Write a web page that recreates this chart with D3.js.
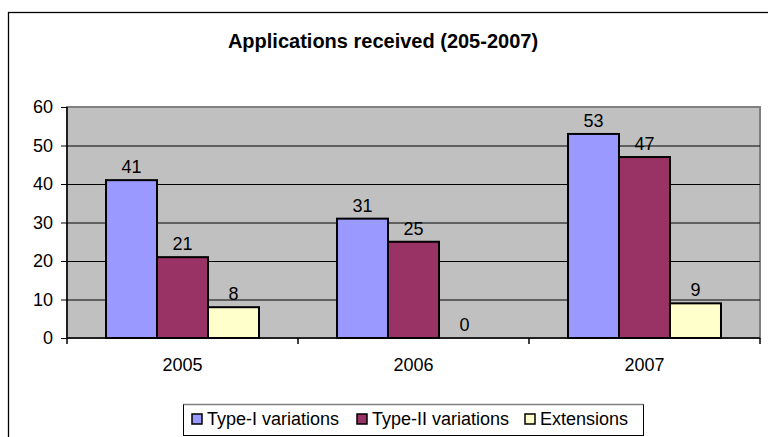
<!DOCTYPE html>
<html><head><meta charset="utf-8">
<script src="https://cdn.jsdelivr.net/npm/d3@7"></script>
<style>body{margin:0;background:#fff}svg{display:block;font-family:"Liberation Sans",Arial,sans-serif}</style>
</head><body><svg id="c" width="768" height="437"></svg>
<script>
const title = "Applications received (205-2007)";
const categories = ["2005", "2006", "2007"];
const seriesNames = ["Type-I variations", "Type-II variations", "Extensions"];
const typeI = [41, 31, 53];
const typeII = [21, 25, 47];
const extensions = [8, 0, 9];
const colors = ["#9999FF", "#993366", "#FFFFCC"];
const yTicks = [0, 10, 20, 30, 40, 50, 60];
const series = [typeI, typeII, extensions];

const FS = 18;
const svg = d3.select("#c");
// outer frame
svg.append("rect").attr("x", 8.5).attr("y", 12.5).attr("width", 800).attr("height", 500)
  .attr("fill", "#fff").attr("stroke", "#000").attr("stroke-width", 1.3);

svg.append("text").attr("x", 383).attr("y", 48).attr("text-anchor", "middle")
  .attr("font-weight", "bold").attr("font-size", 20).text(title);

const L = 67, R = 760, T = 107, B = 338;
const x = d3.scaleBand().domain(categories).range([L, R]).paddingInner(0).paddingOuter(0);
const y = d3.scaleLinear().domain([0, 60]).range([B, T]);
const inner = d3.scaleBand().domain(d3.range(series.length)).range([0, x.bandwidth()]).paddingOuter(0.765).paddingInner(0);

svg.append("rect").attr("x", L).attr("y", T).attr("width", R - L).attr("height", B - T)
  .attr("fill", "#C0C0C0").attr("stroke", "#808080").attr("stroke-width", 2);

svg.append("g").selectAll("line").data(yTicks.filter(d => d > 0 && d < 60)).join("line")
  .attr("x1", L).attr("x2", R).attr("y1", d => y(d) + 0.5).attr("y2", d => y(d) + 0.5)
  .attr("stroke", "#000").attr("stroke-width", 1);

// bars
const g = svg.append("g");
series.forEach((vals, si) => {
  categories.forEach((c, ci) => {
    const v = vals[ci];
    const bx = x(c) + inner(si);
    if (v > 0) {
      g.append("rect").attr("x", bx).attr("y", y(v)).attr("width", inner.bandwidth()).attr("height", B - y(v))
        .attr("fill", colors[si]).attr("stroke", "#000").attr("stroke-width", 2);
    }
    g.append("text").attr("x", bx + inner.bandwidth() / 2).attr("y", y(v) - 7)
      .attr("text-anchor", "middle").attr("font-size", FS).text(v);
  });
});

// axes
const ya = d3.axisLeft(y).tickValues(yTicks).tickSize(6).tickPadding(8);
const yg = svg.append("g").attr("transform", `translate(${L},0)`).call(ya);
yg.select(".domain").attr("stroke", "#000").attr("stroke-width", 1.5).attr("d", `M0,${T}V${B}`);
yg.selectAll(".tick line").attr("stroke", "#000");
yg.selectAll(".tick text").attr("font-size", FS).attr("fill", "#000").attr("font-family", "Liberation Sans, Arial, sans-serif");

const xg = svg.append("g").attr("transform", `translate(0,${B})`);
xg.append("line").attr("x1", L).attr("x2", R).attr("y1", 0).attr("y2", 0).attr("stroke", "#000").attr("stroke-width", 1.5);
xg.selectAll("line.t").data(d3.range(categories.length + 1)).join("line")
  .attr("x1", i => L + i * x.bandwidth()).attr("x2", i => L + i * x.bandwidth())
  .attr("y1", 0).attr("y2", 6).attr("stroke", "#000").attr("stroke-width", 1.5);
xg.selectAll("text").data(categories).join("text")
  .attr("x", d => x(d) + x.bandwidth() / 2).attr("y", 33).attr("text-anchor", "middle")
  .attr("font-size", FS).text(d => d);

// legend
const lg = svg.append("g");
lg.append("rect").attr("x", 183.5).attr("y", 404.5).attr("width", 460).attr("height", 31)
  .attr("fill", "#fff").attr("stroke", "#000").attr("stroke-width", 1);
lg.append("line").attr("x1", 183.5).attr("x2", 643.5).attr("y1", 404.5).attr("y2", 404.5).attr("stroke", "#808080").attr("stroke-width", 1.5);
const lx = [192, 357, 525];
seriesNames.forEach((n, i) => {
  lg.append("rect").attr("x", lx[i]).attr("y", 414).attr("width", 10).attr("height", 10)
    .attr("fill", colors[i]).attr("stroke", "#000").attr("stroke-width", 1.5);
  lg.append("text").attr("x", lx[i] + 15).attr("y", 425).attr("font-size", FS).text(n);
});
</script></body></html>
